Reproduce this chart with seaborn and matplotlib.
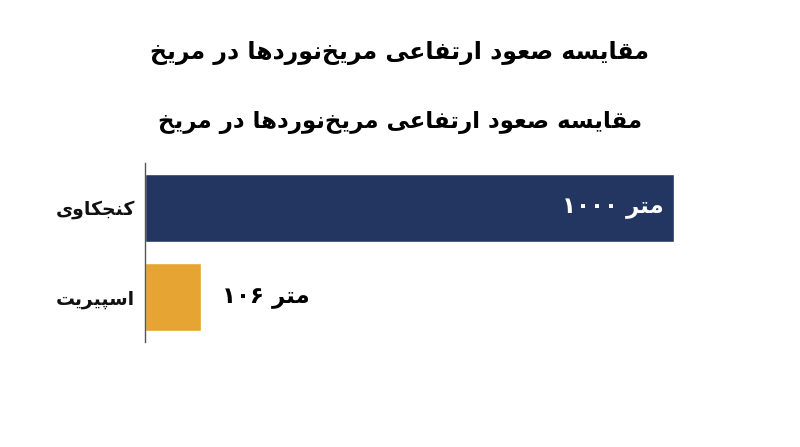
import re
import pandas as pd
import matplotlib
matplotlib.use("Agg")
import matplotlib.pyplot as plt
import seaborn as sns

TITLE = "مقایسه صعود ارتفاعی مریخ\u200cنوردها در مریخ"
ROVERS = ["کنجکاوی", "اسپیریت"]
CLIMB_M = [1000, 106]
VALUE_LABELS = ["۱۰۰۰ متر", "۱۰۶ متر"]
BAR_COLORS = ["#233661", "#E6A532"]

# presentation forms: isolated, final, initial, medial (right-joining letters have only two)
FORMS = {
    "ا": "\uFE8D\uFE8E", "د": "\uFEA9\uFEAA", "ر": "\uFEAD\uFEAE", "و": "\uFEED\uFEEE",
    "پ": "\uFB56\uFB57\uFB58\uFB59", "ت": "\uFE95\uFE96\uFE97\uFE98",
    "ج": "\uFE9D\uFE9E\uFE9F\uFEA0", "خ": "\uFEA5\uFEA6\uFEA7\uFEA8",
    "س": "\uFEB1\uFEB2\uFEB3\uFEB4", "ص": "\uFEB9\uFEBA\uFEBB\uFEBC",
    "ع": "\uFEC9\uFECA\uFECB\uFECC", "ف": "\uFED1\uFED2\uFED3\uFED4",
    "ق": "\uFED5\uFED6\uFED7\uFED8", "ک": "\uFB8E\uFB8F\uFB90\uFB91",
    "م": "\uFEE1\uFEE2\uFEE3\uFEE4", "ن": "\uFEE5\uFEE6\uFEE7\uFEE8",
    "ه": "\uFEE9\uFEEA\uFEEB\uFEEC", "ی": "\uFBFC\uFBFD\uFBFE\uFBFF",
}


def shape(text):
    """join persian letters and lay the rtl runs out left to right"""
    out = []
    for i, c in enumerate(text):
        if c not in FORMS:
            if c != "\u200c":
                out.append(c)
            continue
        f = FORMS[c]
        prev = text[i - 1] if i > 0 else ""
        nxt = text[i + 1] if i + 1 < len(text) else ""
        jp = prev in FORMS and len(FORMS[prev]) == 4
        jn = len(f) == 4 and nxt in FORMS
        if jp and jn:
            out.append(f[3])
        elif jp:
            out.append(f[1])
        elif jn:
            out.append(f[2])
        else:
            out.append(f[0])
    s = "".join(out)
    ar = "[\u0600-\u06EF\uFB50-\uFEFF]"
    runs = re.findall(ar + "+(?: +" + ar + "+)*|.", s)
    return "".join(r[::-1] if re.match(ar, r) else r for r in runs)


df = pd.DataFrame({"rover": [shape(r) for r in ROVERS], "climb": CLIMB_M})

sns.set_style("white")
plt.rcParams["font.family"] = ["DejaVu Sans"]

fig = plt.figure(figsize=(8, 4.47), dpi=100)
ax = fig.add_axes([145 / 800, 105 / 447, 529 / 800, 179 / 447])

sns.barplot(data=df, x="climb", y="rover", hue="rover", palette=BAR_COLORS,
            width=0.76, legend=False, saturation=1, ax=ax)

ax.set_xlim(0, max(CLIMB_M))
ax.set_xlabel("")
ax.set_ylabel("")
ax.set_xticks([])
ax.tick_params(axis="y", length=0, pad=7)
for lab in ax.get_yticklabels():
    lab.set_fontsize(13.5)
    lab.set_fontweight("bold")
    lab.set_color("#111111")
for side in ["top", "right", "bottom"]:
    ax.spines[side].set_visible(False)
ax.spines["left"].set_color("#555555")
ax.spines["left"].set_linewidth(1)

for i, (v, lab) in enumerate(zip(CLIMB_M, VALUE_LABELS)):
    if v > 0.5 * max(CLIMB_M):
        ax.text(v - 20, i, shape(lab), ha="right", va="center", color="white",
                fontsize=16.5, fontweight="bold")
    else:
        ax.text(v + 40, i, shape(lab), ha="left", va="center", color="black",
                fontsize=16.5, fontweight="bold")

fig.text(0.5, 1 - 53 / 447, shape(TITLE), ha="center", va="center",
         fontsize=17, fontweight="bold", color="black")
fig.text(0.5, 1 - 123 / 447, shape(TITLE), ha="center", va="center",
         fontsize=16.5, fontweight="bold", color="black")

fig.savefig("out.png", dpi=100)
